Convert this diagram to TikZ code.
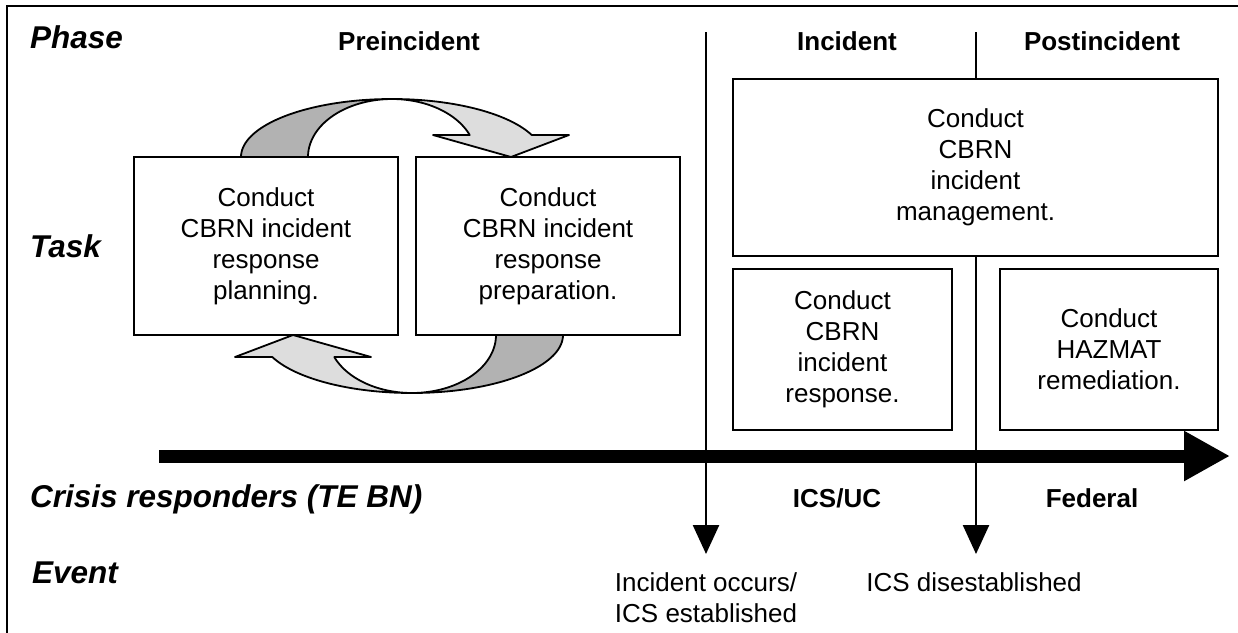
\documentclass[tikz,border=0pt]{standalone}
\usepackage{fontspec}
\setmainfont{Liberation Sans}
\usetikzlibrary{arrows.meta}
\definecolor{bandback}{HTML}{B2B2B2}
\definecolor{bandfront}{HTML}{DDDDDD}
\begin{document}
\begin{tikzpicture}[x=1pt,y=-1pt,
  txt/.style={font=\fontsize{26}{31}\selectfont, align=center, inner sep=0pt},
  head/.style={font=\fontsize{26}{31}\selectfont\bfseries, inner sep=0pt, anchor=base},
  rowlabel/.style={font=\fontsize{31.5}{36}\selectfont\bfseries\itshape, inner sep=0pt, anchor=base west},
  taskbox/.style={draw, line width=2pt, fill=white, txt},
  divider/.style={line width=2.5pt, -{Triangle[width=26pt,length=29pt]}},
  looparrow/.pic={
    % back side of the ribbon
    \filldraw[fill=bandback, line width=1.8pt, line join=round]
      plot[domain=180:90, samples=40, variable=\t] ({392+151*cos(\t)},{157-58*sin(\t)})
      -- plot[domain=90:180, samples=40, variable=\t] ({392+84*cos(\t)},{157-58*sin(\t)})
      -- cycle;
    % front side with the arrowhead
    \filldraw[fill=bandfront, line width=1.8pt, line join=round]
      plot[domain=90:22.3, samples=40, variable=\t] ({392+151*cos(\t)},{157-58*sin(\t)})
      -- (569,135) -- (511,157) -- (433,135)
      -- plot[domain=22.3:90, samples=40, variable=\t] ({392+84*cos(\t)},{157-58*sin(\t)})
      -- cycle;
  }]
\useasboundingbox (0,0) rectangle (1238,632);

% outer frame
\draw[line width=2.5pt] (7,660) -- (7,6) -- (1260,6);

% row labels
\node[rowlabel] (lphase) at (30,48) {Phase};
\node[rowlabel] (ltask) at (30,257) {Task};
\node[rowlabel] (lcrisis) at (30,507) {Crisis responders (TE BN)};
\node[rowlabel] (levent) at (32,583) {Event};

% phase headings
\node[head] (hpre) at (409,50) {Preincident};
\node[head] (hinc) at (847,50) {Incident};
\node[head] (hpost) at (1102,50) {Postincident};

% planning / preparation cycle
\pic at (0,0) {looparrow};
\pic[rotate=180] at (804,492) {looparrow};

% task boxes
\node[taskbox, minimum width=264pt, minimum height=178pt] (plan) at (266,246)
  {Conduct\\CBRN incident\\response\\planning.};
\node[taskbox, minimum width=264pt, minimum height=178pt] (prep) at (548,246)
  {Conduct\\CBRN incident\\response\\preparation.};
\node[taskbox, minimum width=485pt, minimum height=177pt] (mgmt) at (975.5,167.5)
  {Conduct\\CBRN\\incident\\management.};
\node[taskbox, minimum width=219pt, minimum height=161pt] (resp) at (842.5,349.5)
  {Conduct\\CBRN\\incident\\response.};
\node[taskbox, minimum width=218pt, minimum height=161pt] (hazmat) at (1109,349.5)
  {Conduct\\HAZMAT\\remediation.};

% time line
\coordinate (tstart) at (159,456);
\coordinate (tend) at (1230,456);
\draw[line width=13pt, -{Triangle[width=47pt,length=46pt]}] (tstart) -- (tend);

% responders
\node[head] (rics) at (837,507) {ICS/UC};
\node[head] (rfed) at (1092,507) {Federal};

% phase dividers with events
\coordinate (d1top) at (706,32);
\coordinate (d1end) at (706,554);
\coordinate (d2top) at (976,32);
\coordinate (d2end) at (976,554);
\draw[line width=2.5pt] (d2top) -- (d2top |- mgmt.north);
\draw[divider] (d1top) -- (d1end);
\draw[divider] (d2top |- mgmt.south) -- (d2end);

\node[txt, anchor=north] (ev1) at (706,572) {Incident occurs/\\ICS established};
\node[txt, anchor=north] (ev2) at (974,572) {ICS disestablished};
\end{tikzpicture}
\end{document}
